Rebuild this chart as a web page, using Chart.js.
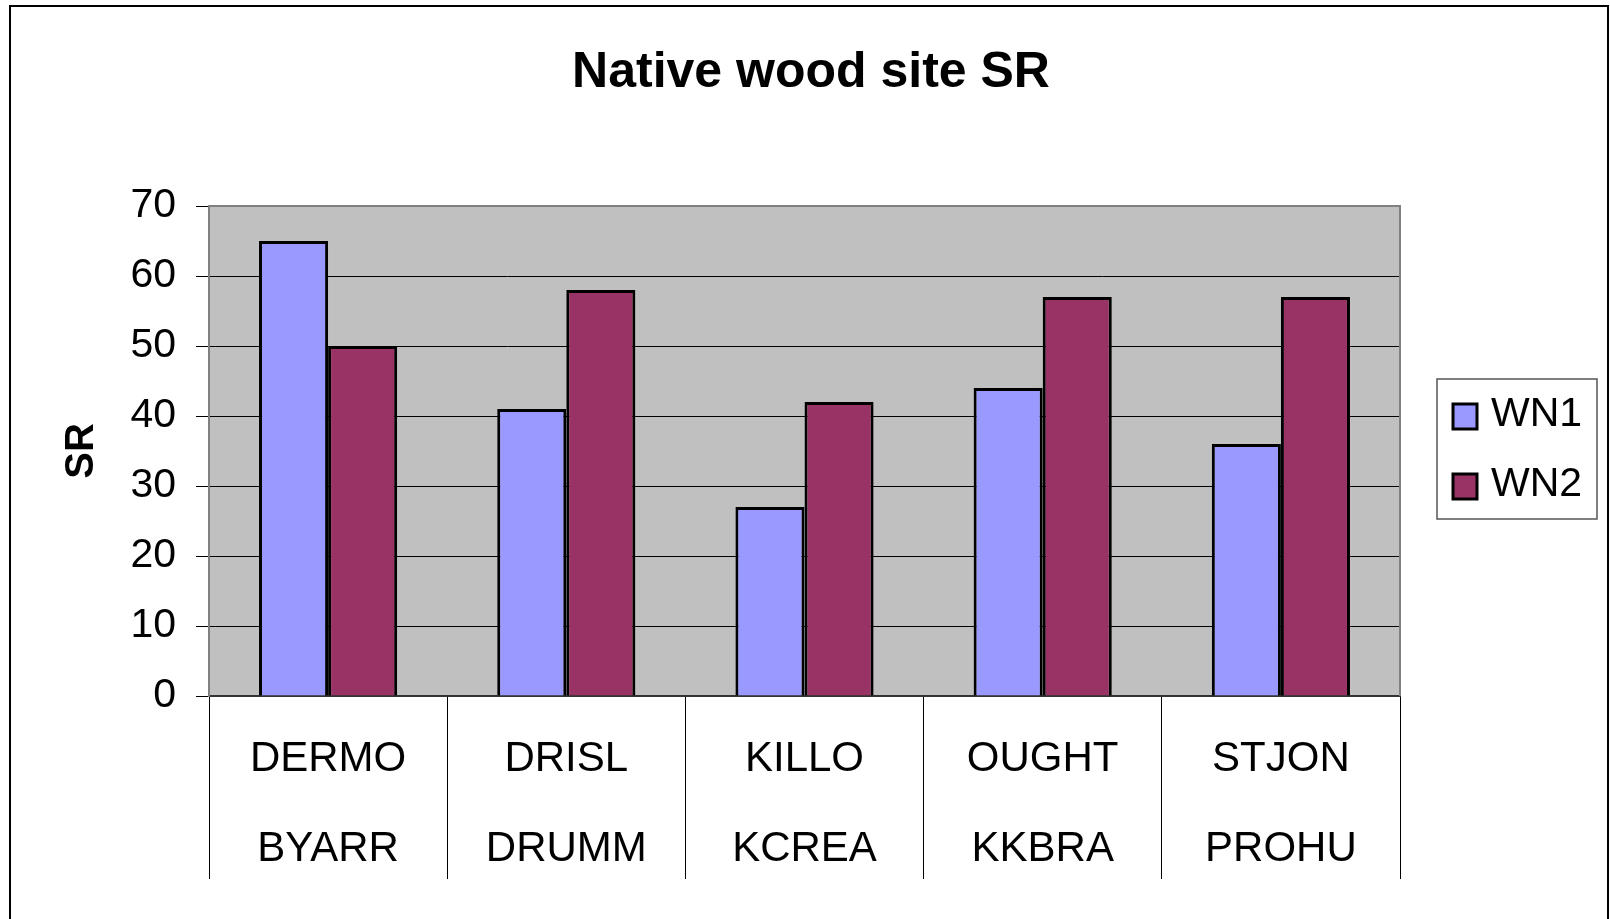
<!DOCTYPE html>
<html>
<head>
<meta charset="utf-8">
<script src="https://cdn.jsdelivr.net/npm/chart.js@4.4.1/dist/chart.umd.min.js"></script>
<style>
  html, body { margin: 0; padding: 0; background: #ffffff; }
  canvas { display: block; }
</style>
</head>
<body>
<canvas id="c" width="1610" height="919"></canvas>
<script>
// ---- data ----
const siteLine1 = ["DERMO", "DRISL", "KILLO", "OUGHT", "STJON"];
const siteLine2 = ["BYARR", "DRUMM", "KCREA", "KKBRA", "PROHU"];
const seriesNames = ["WN1", "WN2"];
const wn1Values = [65, 41, 27, 44, 36];
const wn2Values = [50, 58, 42, 57, 57];
const yMin = 0, yMax = 70, yStep = 10;
const chartTitle = "Native wood site SR";
const yTitle = "SR";

const categories = siteLine1.map((t, i) => [t, siteLine2[i]]);

Chart.defaults.font.family = "'Liberation Sans', Arial, sans-serif";
Chart.defaults.color = "#000";

const plotBackground = {
  id: 'plotBackground',
  beforeDraw(chart) {
    const { ctx, chartArea: a } = chart;
    ctx.save();
    ctx.fillStyle = '#C0C0C0';
    ctx.fillRect(a.left, a.top, a.right - a.left, a.bottom - a.top);
    ctx.restore();
  },
  beforeDatasetsDraw(chart) {
    const { ctx, chartArea: a } = chart;
    ctx.save();
    ctx.strokeStyle = '#808080';
    ctx.lineWidth = 2;
    ctx.beginPath();
    ctx.moveTo(a.left, a.top);
    ctx.lineTo(a.right, a.top);
    ctx.lineTo(a.right, a.bottom);
    ctx.stroke();
    ctx.restore();
  }
};

const boxLegend = {
  id: 'boxLegend',
  afterDraw(chart) {
    const { ctx } = chart;
    ctx.save();
    // legend frame
    ctx.strokeStyle = '#555';
    ctx.lineWidth = 1.5;
    ctx.strokeRect(1437, 379, 160, 140);
    ctx.font = "41px 'Liberation Sans', Arial, sans-serif";
    ctx.textBaseline = 'middle';
    ctx.textAlign = 'left';
    chart.data.datasets.forEach((ds, i) => {
      const y = 404 + i * 70;
      ctx.fillStyle = ds.backgroundColor;
      ctx.fillRect(1453, y, 24, 25);
      ctx.strokeStyle = '#000';
      ctx.lineWidth = 3;
      ctx.strokeRect(1453, y, 24, 25);
      ctx.fillStyle = '#000';
      ctx.fillText(ds.label, 1491, y + 11);
    });
    // outer chart frame
    ctx.strokeStyle = '#000';
    ctx.lineWidth = 2;
    ctx.beginPath();
    ctx.moveTo(10, 919);
    ctx.lineTo(10, 6);
    ctx.lineTo(1608, 6);
    ctx.lineTo(1608, 919);
    ctx.stroke();
    ctx.restore();
  }
};

new Chart(document.getElementById('c'), {
  type: 'bar',
  data: {
    labels: categories,
    datasets: [
      { label: seriesNames[0], data: wn1Values, backgroundColor: '#9999FF', borderColor: '#000', borderWidth: 3,
        categoryPercentage: 0.58, barPercentage: 1.0 },
      { label: seriesNames[1], data: wn2Values, backgroundColor: '#993366', borderColor: '#000', borderWidth: 3,
        categoryPercentage: 0.58, barPercentage: 1.0 }
    ]
  },
  options: {
    responsive: false,
    animation: false,
    devicePixelRatio: 1,
    layout: { padding: { left: 12, right: 0, top: 0, bottom: 0 } },
    plugins: {
      legend: { display: false },
      tooltip: { enabled: false },
      title: {
        display: true,
        text: chartTitle,
        color: '#000',
        font: { size: 50, weight: 'bold', lineHeight: 1 },
        padding: { top: 48, bottom: 108 }
      }
    },
    scales: {
      x: {
        offset: true,
        grid: { display: true, drawOnChartArea: false, drawTicks: true, tickLength: 183, color: '#000', lineWidth: 1, offset: true },
        border: { display: true, color: '#333', width: 2 },
        ticks: { color: '#000', font: { size: 42, lineHeight: 2.15 }, padding: -165, maxRotation: 0, autoSkip: false },
        afterFit(s) { s.height = 223; }
      },
      y: {
        min: yMin, max: yMax,
        ticks: { stepSize: yStep, color: '#000', font: { size: 41 }, padding: 20 },
        grid: { color: '#000', lineWidth: 1, tickLength: 13, drawTicks: true },
        border: { display: true, color: '#808080', width: 2 },
        title: { display: true, text: yTitle, color: '#000', font: { size: 40, weight: 'bold', lineHeight: 1.2 }, padding: { top: 46, bottom: 0 } },
        afterFit(s) { s.width = 197; }
      },
      yRight: {
        type: 'linear',
        position: 'right',
        display: true,
        grid: { display: false, drawTicks: false },
        border: { display: false },
        ticks: { display: false },
        afterFit(s) { s.width = 210; }
      }
    }
  },
  plugins: [plotBackground, boxLegend]
});
</script>
</body>
</html>
